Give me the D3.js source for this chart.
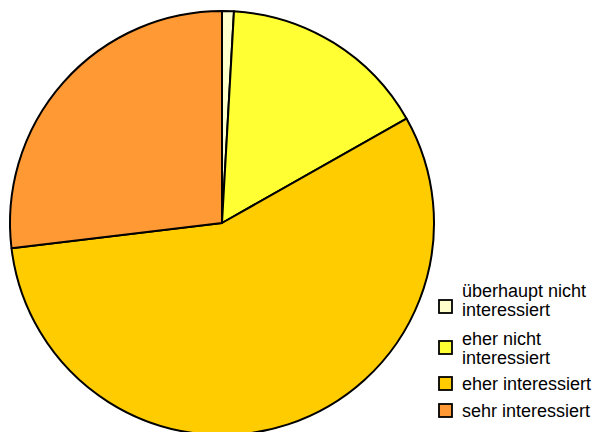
<!DOCTYPE html>
<html>
<head>
<meta charset="utf-8">
<script src="https://cdn.jsdelivr.net/npm/d3@7"></script>
<style>
  body { margin: 0; background: #fff; }
  svg { display: block; }
  text { font-family: "Liberation Sans", Arial, sans-serif; }
</style>
</head>
<body>
<div id="chart"></div>
<script>
var categories = ['überhaupt nicht interessiert', 'eher nicht interessiert', 'eher interessiert', 'sehr interessiert'];
var values = [0.9, 15.9, 56.3, 26.9];
var labelLines = [['überhaupt nicht', 'interessiert'], ['eher nicht', 'interessiert'], ['eher interessiert'], ['sehr interessiert']];
var colors = ['#FFFFCC', '#FFFF33', '#FFCC00', '#FF9933'];

var width = 598, height = 432;
var cx = 222, cy = 223, radius = 212;

var svg = d3.select('#chart').append('svg')
	.attr('width', width)
	.attr('height', height);

var color = d3.scaleOrdinal().domain(categories).range(colors);

var pie = d3.pie().sort(null).value(function(d) { return d.value; });
var arc = d3.arc().innerRadius(0).outerRadius(radius);

var data = categories.map(function(c, i) { return { name: c, value: values[i] }; });

var g = svg.append('g').attr('transform', 'translate(' + cx + ',' + cy + ')');

g.selectAll('path')
	.data(pie(data))
	.enter().append('path')
	.attr('d', arc)
	.style('fill', function(d) { return color(d.data.name); })
	.style('stroke', '#000')
	.style('stroke-width', 2)
	.style('stroke-linejoin', 'round');

// legend
var legendX = 439, textX = 462, lineH = 19, fontSize = 18;
var rows = [297, 344.5, 390, 416.5];
var boxMid = [306.5, 347.5, 383.5, 410.5];

var legend = svg.append('g');

categories.forEach(function(c, i) {
	var lines = labelLines[i];
	var base = rows[i];
	legend.append('rect')
		.attr('x', legendX)
		.attr('y', boxMid[i] - 6.5)
		.attr('width', 13)
		.attr('height', 13)
		.style('fill', color(c))
		.style('stroke', '#000')
		.style('stroke-width', 1.8);
	var t = legend.append('text')
		.attr('x', textX)
		.attr('y', base)
		.style('font-size', fontSize + 'px')
		.style('fill', '#000');
	lines.forEach(function(l, j) {
		t.append('tspan').attr('x', textX).attr('y', base + j * lineH).text(l);
	});
});
</script>
</body>
</html>
